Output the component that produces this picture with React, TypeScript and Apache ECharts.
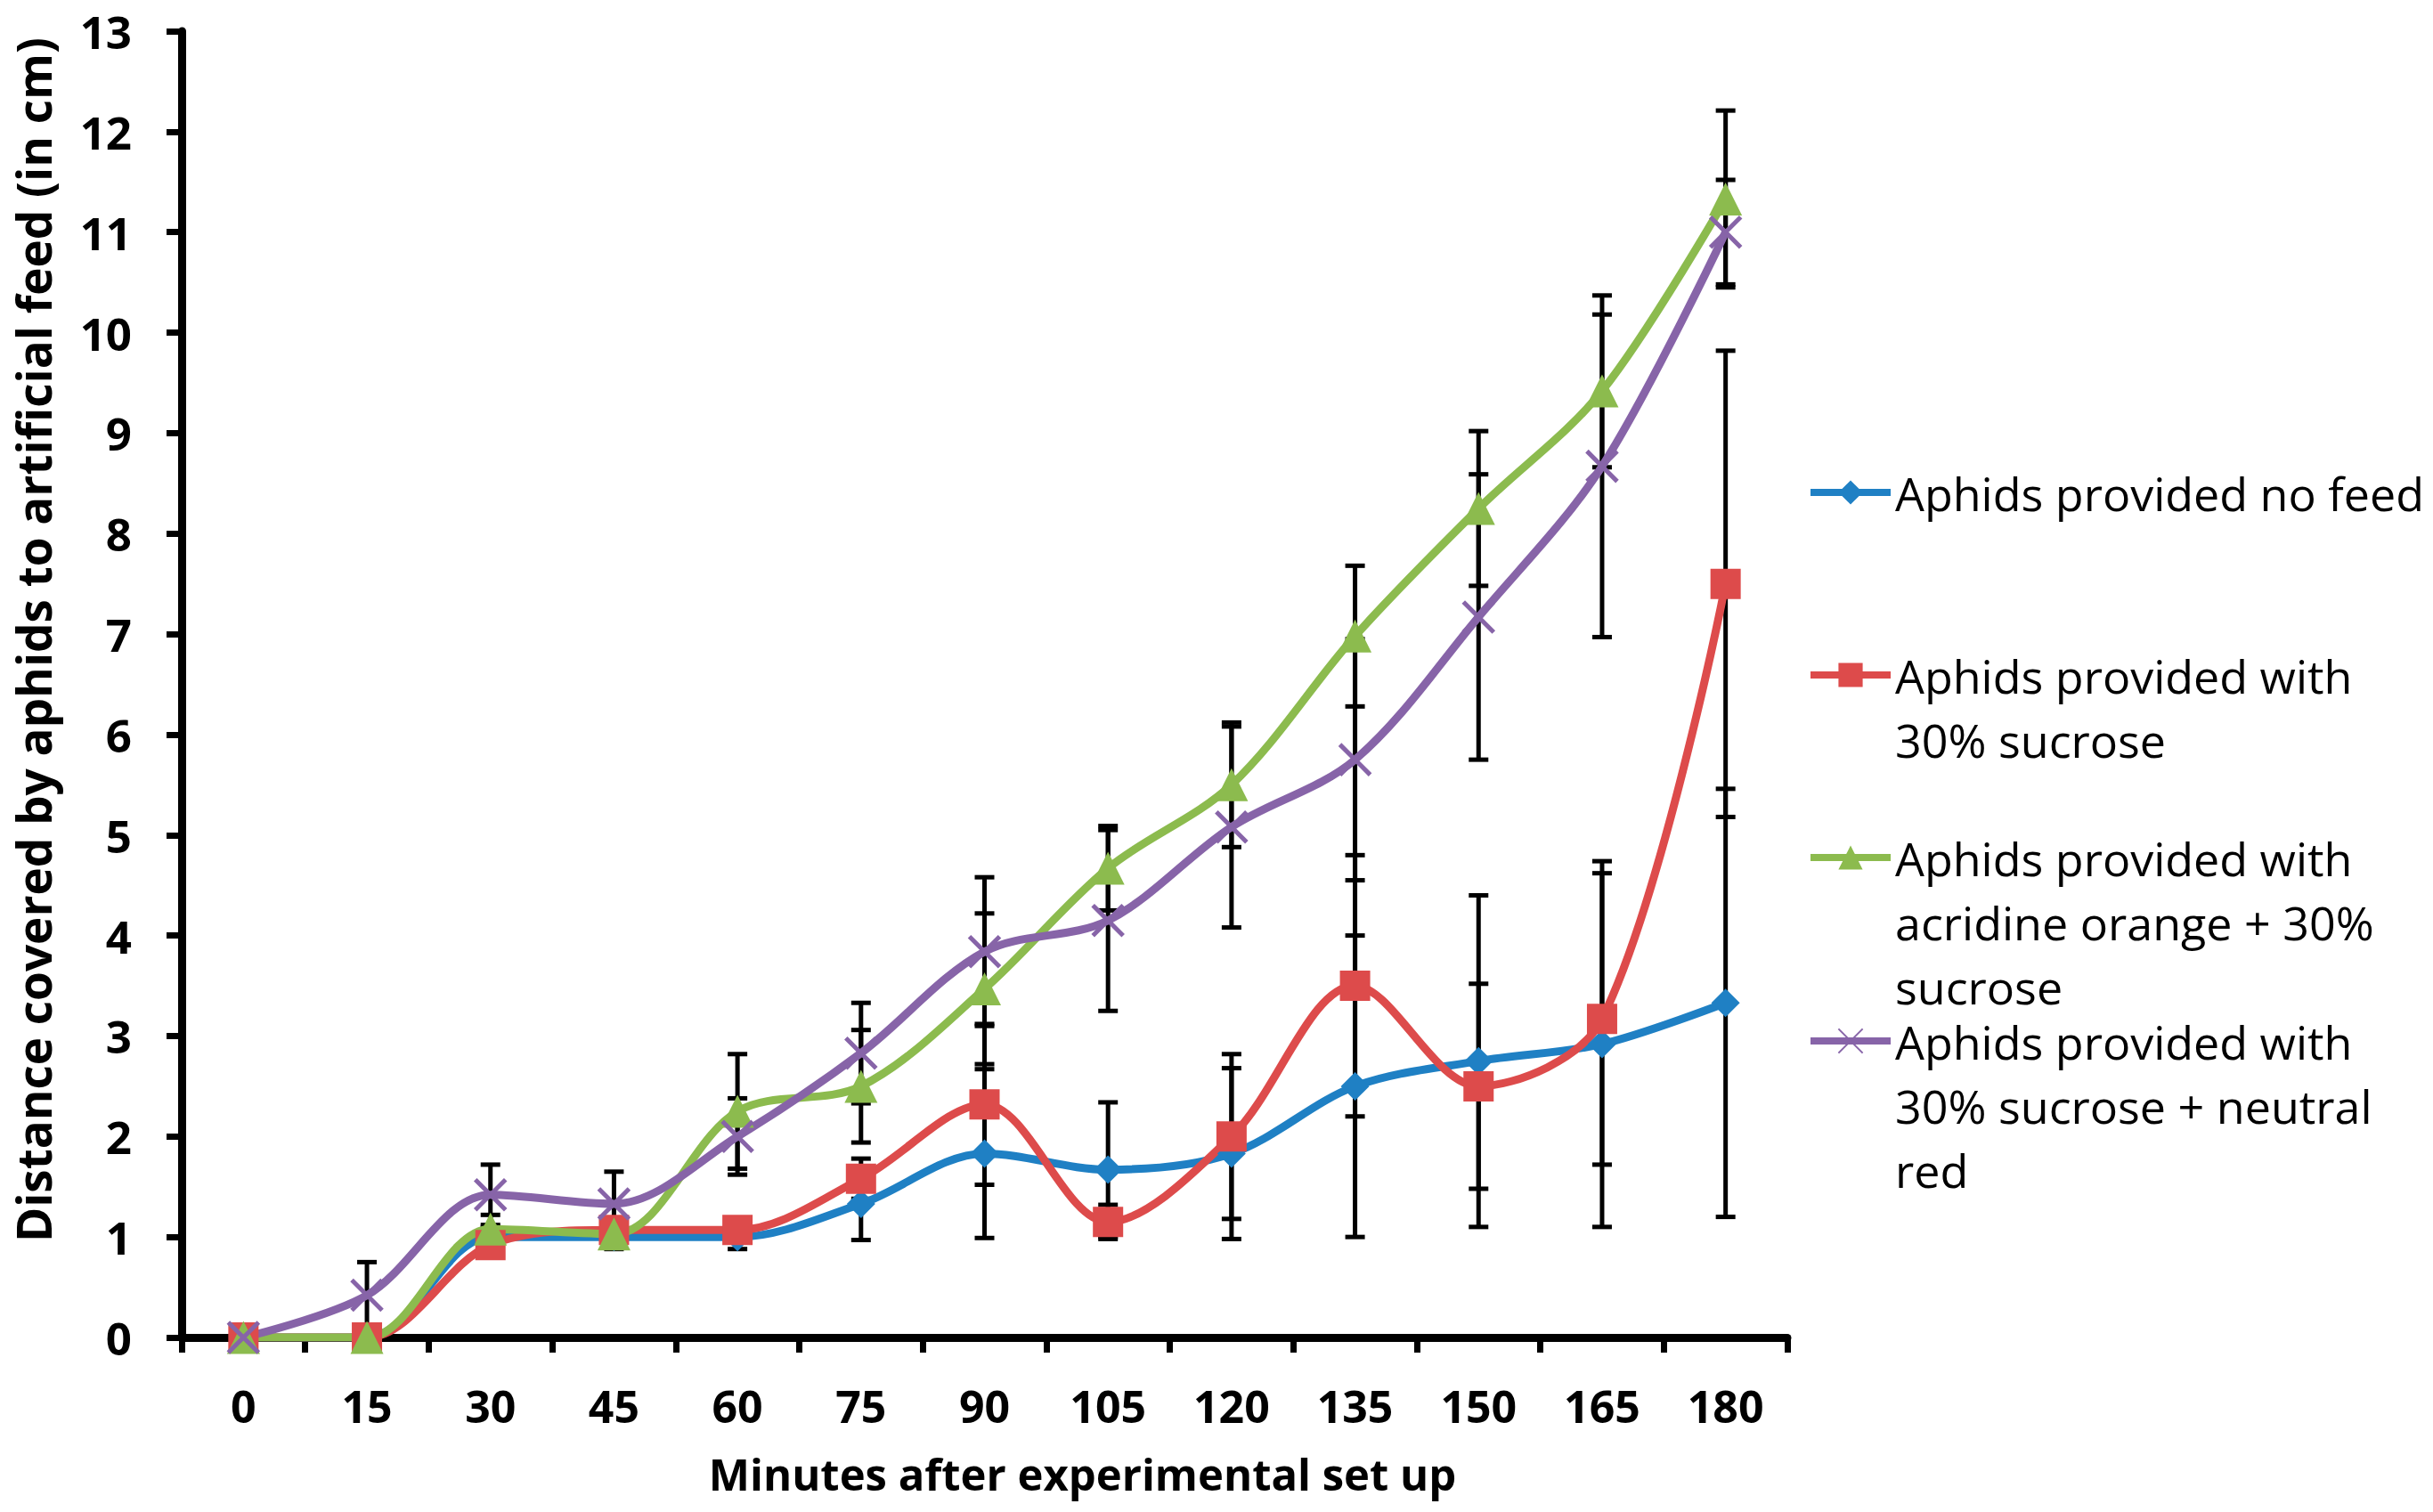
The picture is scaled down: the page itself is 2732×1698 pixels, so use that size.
import * as echarts from 'echarts';
import { useEffect, useRef } from 'react';

const MINUTES = ['0', '15', '30', '45', '60', '75', '90', '105', '120', '135', '150', '165', '180'];

const NO_FEED = [0, 0, 1.0, 1.0, 1.0, 1.33, 1.83, 1.67, 1.83, 2.5, 2.75, 2.92, 3.33];
const NO_FEED_ERR = [0, 0, 0.1, 0.12, 0.12, 0.36, 0.84, 0.67, 0.85, 1.5, 1.65, 1.82, 2.13];

const SUCROSE = [0, 0, 0.92, 1.07, 1.07, 1.58, 2.32, 1.15, 2.0, 3.5, 2.5, 3.17, 7.5];
const SUCROSE_ERR = [0, 0, 0.08, 0.05, 0.05, 0.2, 0.8, 0.17, 0.82, 1.3, 1.02, 1.45, 2.32];

const ACRIDINE = [0, 0, 1.08, 1.03, 2.25, 2.5, 3.47, 4.67, 5.5, 6.98, 8.25, 9.42, 11.33];
const ACRIDINE_ERR = [0, 0, 0.14, 0.05, 0.57, 0.56, 0.75, 0.42, 0.62, 0.7, 0.77, 0.76, 0.88];

const NEUTRAL_RED = [0, 0.42, 1.42, 1.33, 2.0, 2.83, 3.84, 4.15, 5.08, 5.75, 7.17, 8.67, 11.0];
const NEUTRAL_RED_ERR = [0, 0.33, 0.3, 0.32, 0.38, 0.5, 0.74, 0.9, 1.0, 1.2, 1.42, 1.7, 0.52];

const NAMES = [
  'Aphids provided no feed',
  'Aphids provided with\n30% sucrose',
  'Aphids provided with\nacridine orange + 30%\nsucrose',
  'Aphids provided with\n30% sucrose + neutral\nred',
];

const COLORS = ['#1f80c4', '#dd4b4b', '#8cbb4e', '#8764a8'];
const CROSS = 'path://M0 0L20 20M20 0L0 20';

const FONT = '"Open Sans", "Noto Sans", sans-serif';

function errorData(values: number[], errs: number[]) {
  return values
    .map((v, i) => [i, v - errs[i], v + errs[i], errs[i]])
    .filter(d => d[3] > 0);
}

export default function App() {
  const chartRef = useRef<HTMLDivElement>(null);

  useEffect(() => {
    if (!chartRef.current) return;
    const chart = echarts.init(chartRef.current, undefined, { renderer: 'svg' });

    const values = [NO_FEED, SUCROSE, ACRIDINE, NEUTRAL_RED];
    const errs = [NO_FEED_ERR, SUCROSE_ERR, ACRIDINE_ERR, NEUTRAL_RED_ERR];
    const symbols = ['diamond', 'rect', 'triangle', CROSS];
    const sizes = [32, 34, 37, 34];

    const errorSeries = values.map((v, k) => ({
      name: 'err' + k,
      type: 'custom',
      z: 1,
      silent: true,
      data: errorData(v, errs[k]),
      encode: { x: 0, y: [1, 2] },
      renderItem: (_params: any, api: any) => {
        const x = api.value(0);
        const top = api.coord([x, api.value(2)]);
        const bot = api.coord([x, api.value(1)]);
        const hw = 11;
        const st = { stroke: '#000', lineWidth: 5 };
        return {
          type: 'group',
          children: [
            { type: 'line', shape: { x1: top[0], y1: top[1], x2: bot[0], y2: bot[1] }, style: st },
            { type: 'line', shape: { x1: top[0] - hw, y1: top[1], x2: top[0] + hw, y2: top[1] }, style: st },
            { type: 'line', shape: { x1: bot[0] - hw, y1: bot[1], x2: bot[0] + hw, y2: bot[1] }, style: st },
          ],
        };
      },
    }));

    const lineSeries = values.map((v, k) => ({
      name: NAMES[k],
      type: 'line',
      z: 2,
      smooth: 0.33,
      data: v,
      symbol: symbols[k],
      symbolSize: sizes[k],
      lineStyle: { color: COLORS[k], width: 9 },
      itemStyle:
        k === 3
          ? { color: COLORS[k], borderColor: COLORS[k], borderWidth: 5 }
          : { color: COLORS[k] },
    }));

    const legendFirstLineY = [553, 758, 963, 1169];
    const lineCounts = [1, 2, 3, 3];
    const LH = 72;
    const legends = NAMES.map((name, k) => ({
      data: [name],
      orient: 'vertical',
      left: 2029,
      top: legendFirstLineY[k] - ((2 * lineCounts[k] - 1) * LH) / 2,
      padding: 0,
      itemWidth: 90,
      itemHeight: 34,
      selectedMode: false,
      lineStyle: { width: 8 },
      // blank lines above keep the icon level with the first text line
      formatter: (n: string) => '\n'.repeat(lineCounts[k] - 1) + n,
      textStyle: {
        color: '#000',
        fontFamily: FONT,
        fontSize: 52,
        lineHeight: LH,
      },
    }));

    chart.setOption({
      animation: false,
      backgroundColor: '#fff',
      grid: { left: 204, right: 725, top: 35, bottom: 196, containLabel: false },
      legend: legends,
      xAxis: {
        type: 'category',
        data: MINUTES,
        boundaryGap: true,
        name: 'Minutes after experimental set up',
        nameLocation: 'middle',
        nameGap: 128,
        nameTextStyle: {
          color: '#000',
          fontFamily: FONT,
          fontSize: 49,
          fontWeight: 'bold',
          padding: [0, 0, 0, 220],
        },
        axisLine: { lineStyle: { color: '#000', width: 9 } },
        axisTick: { show: true, interval: 0, length: 17, lineStyle: { color: '#000', width: 7 } },
        axisLabel: {
          interval: 0,
          margin: 52,
          color: '#000',
          fontFamily: FONT,
          fontSize: 50,
          fontWeight: 'bold',
        },
        splitLine: { show: false },
      },
      yAxis: {
        type: 'value',
        min: 0,
        max: 13,
        interval: 1,
        name: 'Distance covered by aphids to artificial feed (in cm)',
        nameLocation: 'middle',
        nameGap: 140,
        nameTextStyle: {
          color: '#000',
          fontFamily: FONT,
          fontSize: 53,
          fontWeight: 'bold',
          padding: [0, 0, 0, 100],
        },
        axisLine: { show: true, lineStyle: { color: '#000', width: 9 } },
        axisTick: { show: true, length: 17, lineStyle: { color: '#000', width: 7 } },
        axisLabel: {
          margin: 56,
          color: '#000',
          fontFamily: FONT,
          fontSize: 51,
          fontWeight: 'bold',
        },
        splitLine: { show: false },
      },
      series: [...errorSeries, ...lineSeries],
    });

    const onResize = () => chart.resize();
    window.addEventListener('resize', onResize);
    return () => {
      window.removeEventListener('resize', onResize);
      chart.dispose();
    };
  }, []);

  return (
    <div
      ref={chartRef}
      style={{ position: 'absolute', left: 0, top: 0, width: 2732, height: 1698 }}
    />
  );
}
